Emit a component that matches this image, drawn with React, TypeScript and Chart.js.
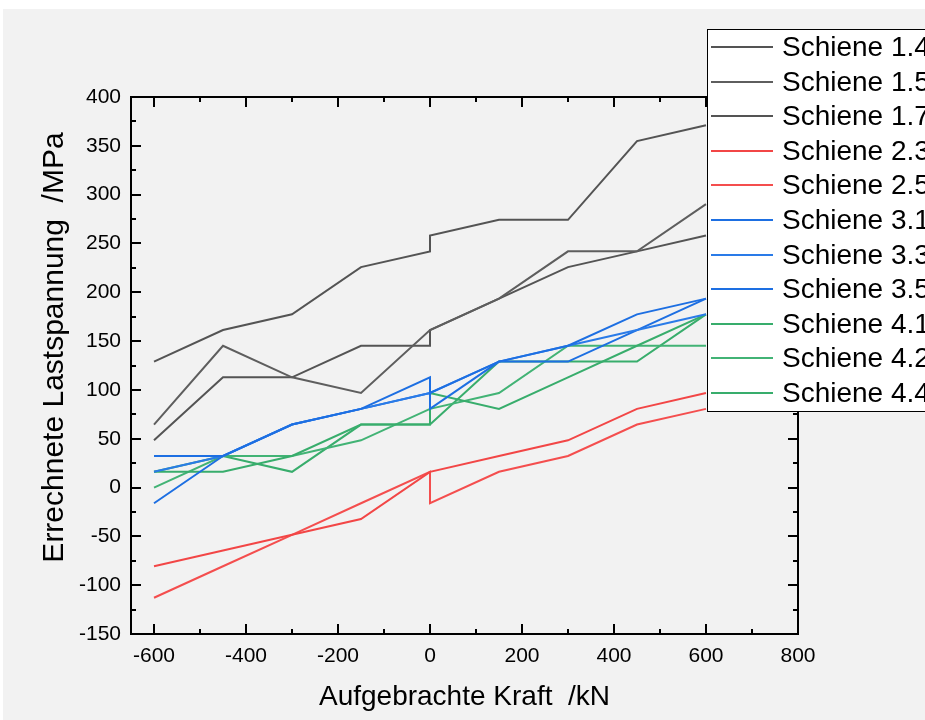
import { useEffect, useRef } from "react";
import { Chart, registerables } from "chart.js";

Chart.register(...registerables);

// Applied load steps (kN); the doubled 0 marks the jump at zero load
const forces = [-600, -450, -300, -150, 0, 0, 150, 300, 450, 600];

// Computed load stresses (MPa) per rail
const schiene14 = [129.0, 161.3, 177.4, 225.8, 241.9, 258.1, 274.2, 274.2, 354.8, 371.0];
const schiene15 = [64.5, 145.2, 112.9, 96.8, 161.3, 161.3, 193.5, 241.9, 241.9, 290.3];
const schiene17 = [48.4, 112.9, 112.9, 145.2, 145.2, 161.3, 193.5, 225.8, 241.9, 258.1];
const schiene23 = [-80.6, -64.5, -48.4, -32.3, 16.1, 16.1, 32.3, 48.4, 80.6, 96.8];
const schiene25 = [-112.9, -80.6, -48.4, -16.1, 16.1, -16.1, 16.1, 32.3, 64.5, 80.6];
const schiene31 = [32.3, 32.3, 64.5, 80.6, 112.9, 96.8, 129.0, 145.2, 177.4, 193.5];
const schiene33 = [16.1, 32.3, 64.5, 80.6, 96.8, 96.8, 129.0, 145.2, 161.3, 177.4];
const schiene35 = [-16.1, 32.3, 64.5, 80.6, 96.8, 80.6, 129.0, 129.0, 161.3, 193.5];
const schiene41 = [16.1, 16.1, 32.3, 64.5, 64.5, 96.8, 80.6, 112.9, 145.2, 177.4];
const schiene42 = [0, 32.3, 32.3, 48.4, 80.6, 80.6, 96.8, 145.2, 145.2, 145.2];
const schiene44 = [16.1, 32.3, 16.1, 64.5, 64.5, 64.5, 129.0, 129.0, 129.0, 177.4];

const seriesLabels = [
  "Schiene 1.4", "Schiene 1.5", "Schiene 1.7",
  "Schiene 2.3", "Schiene 2.5",
  "Schiene 3.1", "Schiene 3.3", "Schiene 3.5",
  "Schiene 4.1", "Schiene 4.2", "Schiene 4.4",
];
const seriesValues = [
  schiene14, schiene15, schiene17,
  schiene23, schiene25,
  schiene31, schiene33, schiene35,
  schiene41, schiene42, schiene44,
];
const seriesColors = [
  "#545454", "#5e5e5e", "#545454",
  "#f24646", "#f44e4e",
  "#1d6fe2", "#2a7be8", "#1d6fe2",
  "#38ad6c", "#42b375", "#38ad6c",
];

const xTickValues = [-600, -400, -200, 0, 200, 400, 600, 800];
const yTickValues = [-150, -100, -50, 0, 50, 100, 150, 200, 250, 300, 350, 400];

const xTitle = "Aufgebrachte Kraft  /kN";
const yTitle = "Errechnete Lastspannung  /MPa";

const FONT = "'Liberation Sans', Arial, sans-serif";
const BG = "#f2f2f2";

// Closed frame with inward-pointing major/minor ticks on all four sides
const framePlugin = {
  id: "frameTicks",
  afterDatasetsDraw(chart: any) {
    const { ctx, chartArea, scales } = chart;
    const { left, right, top, bottom } = chartArea;
    const x = scales.x;
    const y = scales.y;
    ctx.save();
    ctx.strokeStyle = "#000";
    ctx.lineWidth = 2;
    ctx.beginPath();
    for (let v = -600; v <= 800; v += 100) {
      const px = Math.round(x.getPixelForValue(v));
      const len = v % 200 === 0 ? 10 : 5;
      ctx.moveTo(px, bottom);
      ctx.lineTo(px, bottom - len);
      ctx.moveTo(px, top);
      ctx.lineTo(px, top + len);
    }
    for (let v = -150; v <= 400; v += 25) {
      const py = Math.round(y.getPixelForValue(v));
      const len = v % 50 === 0 ? 10 : 5;
      ctx.moveTo(left, py);
      ctx.lineTo(left + len, py);
      ctx.moveTo(right, py);
      ctx.lineTo(right - len, py);
    }
    ctx.stroke();
    ctx.strokeRect(left, top, right - left, bottom - top);
    ctx.restore();
  },
};

// Vertical axis title, set slightly above the plot's centre line
const yTitlePlugin = {
  id: "yTitle",
  afterDraw(chart: any) {
    const { ctx, chartArea } = chart;
    const cy = (chartArea.top + chartArea.bottom) / 2 - 18;
    ctx.save();
    ctx.translate(52, cy);
    ctx.rotate(-Math.PI / 2);
    ctx.font = `30px ${FONT}`;
    ctx.fillStyle = "#000";
    ctx.textAlign = "center";
    ctx.textBaseline = "middle";
    ctx.fillText(yTitle, 0, 0);
    ctx.restore();
  },
};

// Legend box overlapping the upper right of the plot
const legendPlugin = {
  id: "legendBox",
  afterDraw(chart: any) {
    const { ctx } = chart;
    const boxX = 704;
    const boxY = 20;
    const rowH = 34.6;
    ctx.save();
    ctx.fillStyle = "#ffffff";
    ctx.fillRect(boxX, boxY, 260, 383);
    ctx.strokeStyle = "#000";
    ctx.lineWidth = 1;
    ctx.strokeRect(boxX + 0.5, boxY + 0.5, 260, 382);
    ctx.font = `28px ${FONT}`;
    ctx.textBaseline = "middle";
    ctx.textAlign = "left";
    seriesLabels.forEach((label, i) => {
      const cy = Math.round(boxY + 18 + i * rowH);
      ctx.strokeStyle = seriesColors[i];
      ctx.lineWidth = 2;
      ctx.beginPath();
      ctx.moveTo(boxX + 4, cy);
      ctx.lineTo(boxX + 66, cy);
      ctx.stroke();
      ctx.fillStyle = "#000";
      ctx.fillText(label, boxX + 75, cy + 1);
    });
    ctx.restore();
  },
};

export default function App() {
  const canvasRef = useRef<HTMLCanvasElement | null>(null);

  useEffect(() => {
    const canvas = canvasRef.current;
    if (!canvas) return;
    const datasets = seriesLabels.map((label, i) => ({
      label,
      data: forces.map((f, j) => ({ x: f, y: seriesValues[i][j] })),
      borderColor: seriesColors[i],
      backgroundColor: seriesColors[i],
      borderWidth: 2,
      pointRadius: 0,
      tension: 0,
      fill: false,
    }));
    const chart = new Chart(canvas, {
      type: "line",
      data: { datasets },
      plugins: [framePlugin, yTitlePlugin, legendPlugin],
      options: {
        animation: false,
        responsive: false,
        devicePixelRatio: 1,
        layout: { padding: { top: 88, right: 127, left: 0, bottom: 0 } },
        plugins: {
          legend: { display: false },
          tooltip: { enabled: false },
        },
        scales: {
          x: {
            type: "linear",
            min: -650,
            max: 800,
            grid: { display: false, drawTicks: false },
            border: { display: false },
            afterBuildTicks: (s: any) => {
              s.ticks = xTickValues.map((v) => ({ value: v }));
            },
            afterFit: (s: any) => {
              s.height = 86;
            },
            ticks: {
              padding: 10,
              color: "#000",
              autoSkip: false,
              maxRotation: 0,
              font: { family: FONT, size: 21 },
              callback: (v: any) => String(v),
            },
            title: {
              display: true,
              text: xTitle,
              color: "#000",
              font: { family: FONT, size: 28 },
              padding: { top: 0, bottom: 6 },
            },
          },
          y: {
            type: "linear",
            min: -150,
            max: 400,
            grid: { display: false, drawTicks: false },
            border: { display: false },
            afterBuildTicks: (s: any) => {
              s.ticks = yTickValues.map((v) => ({ value: v }));
            },
            afterFit: (s: any) => {
              s.width = 128;
            },
            ticks: {
              padding: 10,
              color: "#000",
              autoSkip: false,
              font: { family: FONT, size: 21 },
              callback: (v: any) => String(v),
            },
            title: { display: false },
          },
        },
      },
    });
    return () => chart.destroy();
  }, []);

  return (
    <div
      style={{
        position: "fixed",
        left: 3,
        top: 9,
        width: 922,
        height: 711,
        background: BG,
        overflow: "hidden",
      }}
    >
      <canvas ref={canvasRef} width={922} height={711} style={{ display: "block" }} />
    </div>
  );
}
